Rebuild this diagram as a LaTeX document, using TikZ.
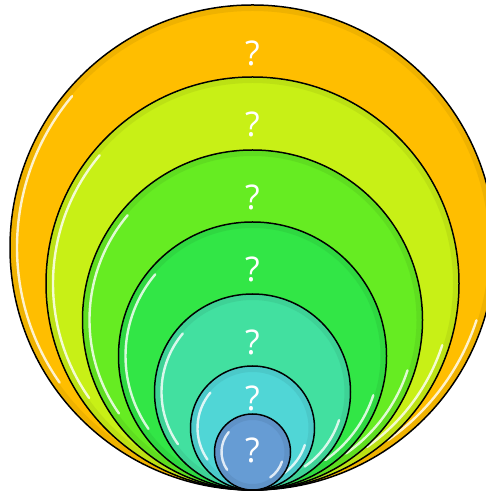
\documentclass[tikz,border=0pt]{standalone}
\usepackage{fontspec}
\setmainfont{Open Sans}
\definecolor{cOrange}{RGB}{255,190,0}
\definecolor{cLime}{RGB}{200,240,22}
\definecolor{cGreen}{RGB}{102,236,34}
\definecolor{cBright}{RGB}{50,230,70}
\definecolor{cTeal}{RGB}{66,224,160}
\definecolor{cCyan}{RGB}{80,214,214}
\definecolor{cBlue}{RGB}{102,156,212}
\tikzset{
  bubble/.style={circle, draw=black, line width=1.5pt, inner sep=0pt, outer sep=0pt, minimum size=#1},
  qlabel/.style={text=white, font=\fontsize{34}{40}\selectfont, inner sep=0pt},
  gloss/.style={white, line width=2.4pt, opacity=0.8, line cap=round},
  rim/.style={line width=5pt, opacity=0.2}
}
\newcommand{\bubbleat}[5]{% name, x, y, r, color
  \node[bubble=#4*2pt, fill=#5] (#1) at (#2,#3) {};
  \draw[rim, draw=#5!70!black] (#1.center) circle[radius=#4-3.5];
  \draw[gloss] ([shift={(140:#4-7)}]#1.center) arc[start angle=140, end angle=215, radius=#4-7];
  \draw[gloss] ([shift={(-18:#4-7)}]#1.center) arc[start angle=-18, end angle=-55, radius=#4-7];
}
\begin{document}
\begin{tikzpicture}[x=1pt,y=1pt]
\useasboundingbox (0,0) rectangle (486,492);
\bubbleat{b1}{252.5}{244.5}{242.5}{cOrange}
\bubbleat{b2}{252.5}{208.5}{206.5}{cLime}
\bubbleat{b3}{252.5}{172}{170}{cGreen}
\bubbleat{b4}{252.5}{136}{134}{cBright}
\bubbleat{b5}{252.5}{100}{98}{cTeal}
\bubbleat{b6}{252.5}{64}{62}{cCyan}
\bubbleat{b7}{252.5}{40}{38}{cBlue}
\node[qlabel] (l1) at (252.5,439) {?};
\node[qlabel] (l2) at (252.5,368) {?};
\node[qlabel] (l3) at (252.5,295) {?};
\node[qlabel] (l4) at (252.5,223) {?};
\node[qlabel] (l5) at (252.5,150) {?};
\node[qlabel] (l6) at (252.5,94) {?};
\node[qlabel] (l7) at (252.5,42) {?};
\end{tikzpicture}
\end{document}
